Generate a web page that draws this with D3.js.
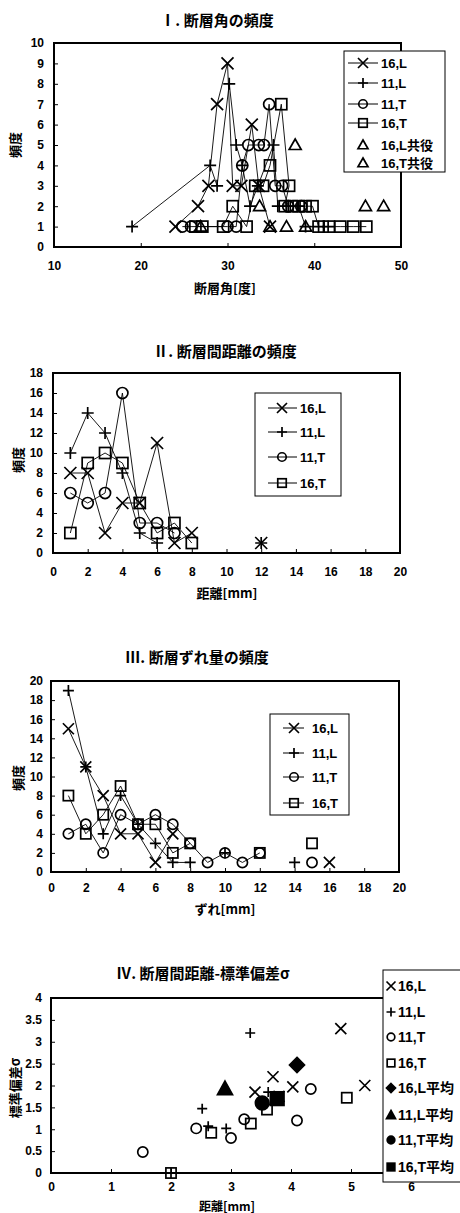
<!DOCTYPE html>
<html><head><meta charset="utf-8">
<script src="https://cdn.jsdelivr.net/npm/d3@7"></script>
<style>
body{margin:0;background:#fff}
text{font-family:"Liberation Sans",Arial,"Noto Sans CJK JP",sans-serif;font-weight:bold;fill:#000}
.jp{font-family:"Noto Sans CJK JP",sans-serif;font-weight:bold}
</style>
</head><body>
<svg id="c" width="460" height="1213"></svg>
<script>
// ---------- Panel I : 断層角の頻度 ----------
const angleTicksX = [10,20,30,40,50];
const angleTicksY = [0,1,2,3,4,5,6,7,8,9,10];
const angle16L = [[24,1],[26.6,2],[27.8,3],[28.8,7],[30,9],[30.6,3],[31.6,3],[32.8,6],[33.6,3],[34.9,1]];
const angle11L = [[19,1],[28,4],[28.8,3],[30.2,8],[31,5],[31.7,4],[32.6,2],[33.5,3],[35.3,5],[35.8,2],[37,2],[38.2,2],[39,1],[40.5,1],[41.6,1]];
const angle11T = [[24.8,1],[25.8,1],[30,1],[31,1],[31.7,4],[32.4,5],[33.6,5],[34.2,5],[34.8,7],[35.5,3],[36.3,3],[37,2],[38.5,2]];
const angle16T = [[26.3,1],[27.1,1],[29.5,1],[30.6,2],[32.2,1],[33.2,3],[34.1,3],[34.9,4],[36.2,7],[37.1,3],[36.6,2],[37.4,2],[38.2,2],[39,2],[39.8,2],[40.5,1],[41.7,1],[43,1],[44.5,1],[46,1]];
const angle16Lc = [[26.9,1],[33.7,2],[37.8,5],[45.9,2]];
const angle16Tc = [[34.9,1],[36.8,1],[39,1],[48,2]];

// ---------- Panel II : 断層間距離の頻度 ----------
const distTicksX = [0,2,4,6,8,10,12,14,16,18,20];
const distTicksY = [0,2,4,6,8,10,12,14,16,18];
const dist16L = [[1,8],[2,8],[3,2],[4,5],[5,5],[6,11],[7,1],[8,2],null,[12,1]];
const dist11L = [[1,10],[2,14],[3,12],[4,8],[5,2],[6,1],null,[12,1]];
const dist11T = [[1,6],[2,5],[3,6],[4,16],[5,3],[6,3],[7,2]];
const dist16T = [[1,2],[2,9],[3,10],[4,9],[5,5],[6,2],[7,3],[8,1]];

// ---------- Panel III : 断層ずれ量の頻度 ----------
const slipTicksX = [0,2,4,6,8,10,12,14,16,18,20];
const slipTicksY = [0,2,4,6,8,10,12,14,16,18,20];
const slip16L = [[1,15],[2,11],[3,8],[4,4],[5,4],[6,1],[7,4],null,[16,1]];
const slip11L = [[1,19],[2,11],[3,4],[4,8],[5,5],[6,3],[7,1],[8,1],null,[10,2],null,[14,1]];
const slip11T = [[1,4],[2,5],[3,2],[4,6],[5,5],[6,6],[7,5],[8,3],[9,1],[10,2],[11,1],[12,2],null,[15,1]];
const slip16T = [[1,8],[2,4],[3,6],[4,9],[5,5],[6,5],[7,2],[8,3],null,[12,2],null,[15,3]];

// ---------- Panel IV : 断層間距離-標準偏差σ ----------
const sdTicksX = [0,1,2,3,4,5,6];
const sdTicksY = [0,0.5,1,1.5,2,2.5,3,3.5,4];
const sd16L = [[3.4,1.85],[3.7,2.2],[3.8,1.75],[4.03,1.97],[4.83,3.3],[5.23,2.0]];
const sd11L = [[2.0,0],[2.52,1.47],[2.62,1.07],[2.92,1.02],[3.32,3.2],[3.62,1.85]];
const sd11T = [[1.53,0.48],[2.42,1.02],[3.0,0.8],[3.22,1.23],[4.1,1.2],[4.33,1.92]];
const sd16T = [[2.0,0],[2.67,0.92],[3.33,1.13],[3.6,1.45],[4.93,1.72]];
const sd16Lavg = [[4.1,2.47]];
const sd11Lavg = [[2.9,1.93]];
const sd11Tavg = [[3.52,1.6]];
const sd16Tavg = [[3.77,1.7]];

const svg = d3.select('#c');

function marker(g, type, cx, cy, s) {
  const h = s/2;
  const st = {stroke:'#000','stroke-width':1.7,fill:'none'};
  let el;
  switch(type){
    case 'x': el = g.append('path').attr('d',`M${cx-h},${cy-h}L${cx+h},${cy+h}M${cx-h},${cy+h}L${cx+h},${cy-h}`); break;
    case 'plus': el = g.append('path').attr('d',`M${cx-h},${cy}L${cx+h},${cy}M${cx},${cy-h}L${cx},${cy+h}`); break;
    case 'circle': el = g.append('circle').attr('cx',cx).attr('cy',cy).attr('r',h*0.85); break;
    case 'square': el = g.append('rect').attr('x',cx-h*0.85).attr('y',cy-h*0.85).attr('width',h*1.7).attr('height',h*1.7); break;
    case 'tri': el = g.append('path').attr('d',`M${cx},${cy-h}L${cx+h},${cy+h*0.75}L${cx-h},${cy+h*0.75}Z`); break;
    case 'diamondF': el = g.append('path').attr('d',`M${cx},${cy-h}L${cx+h},${cy}L${cx},${cy+h}L${cx-h},${cy}Z`); st.fill='#000'; break;
    case 'triF': el = g.append('path').attr('d',`M${cx},${cy-h}L${cx+h},${cy+h*0.8}L${cx-h},${cy+h*0.8}Z`); st.fill='#000'; break;
    case 'circleF': el = g.append('circle').attr('cx',cx).attr('cy',cy).attr('r',h*0.85); st.fill='#000'; break;
    case 'squareF': el = g.append('rect').attr('x',cx-h*0.85).attr('y',cy-h*0.85).attr('width',h*1.7).attr('height',h*1.7); st.fill='#000'; break;
  }
  Object.entries(st).forEach(([k,v])=>el.attr(k,v));
}

function panel(cfg) {
  const g = svg.append('g');
  const x = d3.scaleLinear().domain(cfg.xDomain).range(cfg.xRange);
  const y = d3.scaleLinear().domain(cfg.yDomain).range(cfg.yRange);
  const [x0,x1] = cfg.xRange, [y0,y1] = cfg.yRange;
  const ax = g.append('g').attr('transform',`translate(0,${y0})`)
    .call(d3.axisBottom(x).tickValues(cfg.xTicks).tickSize(-4).tickPadding(cfg.xPad).tickFormat(d3.format('')));
  const ay = g.append('g').attr('transform',`translate(${x0},0)`)
    .call(d3.axisLeft(y).tickValues(cfg.yTicks).tickSize(-4).tickPadding(cfg.yPad).tickFormat(d=>String(d)));
  [ax,ay].forEach(a=>{
    a.select('.domain').remove();
    a.selectAll('.tick line').attr('stroke','#000').attr('stroke-width',1);
    a.selectAll('.tick text').style('font-size','12px').style('font-weight','bold').attr('fill','#000');
  });
  if (cfg.openRight) {
    g.append('path').attr('d',`M${x1},${y1}L${x0},${y1}L${x0},${y0}L${x1},${y0}`)
      .attr('fill','none').attr('stroke','#000').attr('stroke-width',2);
  } else {
    g.append('rect').attr('x',x0).attr('y',y1).attr('width',x1-x0).attr('height',y0-y1)
      .attr('fill','none').attr('stroke','#000').attr('stroke-width',2);
  }
  const line = d3.line().defined(d=>d).x(d=>x(d[0])).y(d=>y(d[1]));
  cfg.series.forEach(s=>{
    if (s.line) g.append('path').attr('d',line(s.data)).attr('fill','none').attr('stroke','#000').attr('stroke-width',0.9);
  });
  cfg.series.forEach(s=>{
    s.data.filter(d=>d).forEach(d=>marker(g,s.marker,x(d[0]),y(d[1]),s.size));
  });
  g.append('text').attr('class','jp').attr('x',cfg.titleX).attr('y',cfg.titleY).attr('text-anchor','middle')
    .attr('dominant-baseline','central').style('font-size','15px').text(cfg.title);
  g.append('text').attr('class','jp').attr('x',cfg.xLabelX).attr('y',cfg.xLabelY).attr('text-anchor','middle')
    .attr('dominant-baseline','central').style('font-size',cfg.xLabelSize||'13px').text(cfg.xLabel);
  g.append('text').attr('class','jp').attr('transform',`translate(${cfg.yLabelX},${cfg.yLabelY}) rotate(-90)`)
    .attr('text-anchor','middle').attr('dominant-baseline','central').style('font-size','13px').text(cfg.yLabel);
  const L = cfg.legend;
  const lg = g.append('g');
  lg.append('rect').attr('x',L.x).attr('y',L.y).attr('width',L.w).attr('height',L.h)
    .attr('fill','#fff').attr('stroke','#000').attr('stroke-width',1);
  L.items.forEach((it,i)=>{
    const yy = L.rows[i];
    const s = cfg.series[i];
    if (s.line) lg.append('line').attr('x1',L.lx0).attr('x2',L.lx1).attr('y1',yy).attr('y2',yy).attr('stroke','#000').attr('stroke-width',1);
    marker(lg, s.marker, L.mx, yy, L.ms);
    lg.append('text').attr('x',L.tx).attr('y',yy).attr('dominant-baseline','central')
      .style('font-size',L.fs||'13px').text(it);
  });
}

panel({
  xDomain:[10,50], xRange:[54,401], yDomain:[0,10], yRange:[247,43],
  xTicks:angleTicksX, yTicks:angleTicksY, xPad:14, yPad:10,
  title:'Ⅰ. 断層角の頻度', titleX:217, titleY:19,
  xLabel:'断層角[度]', xLabelX:225, xLabelY:287,
  yLabel:'頻度', yLabelX:14, yLabelY:145,
  series:[
    {data:angle16L, marker:'x', line:true, size:12},
    {data:angle11L, marker:'plus', line:true, size:12},
    {data:angle11T, marker:'circle', line:true, size:13},
    {data:angle16T, marker:'square', line:true, size:13},
    {data:angle16Lc, marker:'tri', line:false, size:12},
    {data:angle16Tc, marker:'tri', line:false, size:12}
  ],
  legend:{x:344,y:51,w:101,h:121,rows:[63,83,104,123,145,163],lx0:348,lx1:378,mx:363,ms:10,tx:381,
    items:['16,L','11,L','11,T','16,T','16,L共役','16,T共役']}
});

panel({
  xDomain:[0,20], xRange:[53,400], yDomain:[0,18], yRange:[553,373],
  xTicks:distTicksX, yTicks:distTicksY, xPad:14, yPad:10,
  title:'Ⅱ. 断層間距離の頻度', titleX:225, titleY:350,
  xLabel:'距離[mm]', xLabelX:227, xLabelY:592,
  yLabel:'頻度', yLabelX:17, yLabelY:460,
  series:[
    {data:dist16L, marker:'x', line:true, size:12},
    {data:dist11L, marker:'plus', line:true, size:12},
    {data:dist11T, marker:'circle', line:true, size:13},
    {data:dist16T, marker:'square', line:true, size:13}
  ],
  legend:{x:255,y:393,w:86,h:103,rows:[408,432,457,483],lx0:268,lx1:297,mx:282,ms:10,tx:300,
    items:['16,L','11,L','11,T','16,T']}
});

panel({
  xDomain:[0,20], xRange:[51,399], yDomain:[0,20], yRange:[872,681],
  xTicks:slipTicksX, yTicks:slipTicksY, xPad:11, yPad:8,
  title:'Ⅲ. 断層ずれ量の頻度', titleX:197, titleY:656,
  xLabel:'ずれ[mm]', xLabelX:225, xLabelY:908,
  yLabel:'頻度', yLabelX:17, yLabelY:778,
  series:[
    {data:slip16L, marker:'x', line:true, size:11},
    {data:slip11L, marker:'plus', line:true, size:11},
    {data:slip11T, marker:'circle', line:true, size:12},
    {data:slip16T, marker:'square', line:true, size:12}
  ],
  legend:{x:270,y:714,w:79,h:101,rows:[728,753,777,803],lx0:283,lx1:304,mx:294,ms:10,tx:312,
    items:['16,L','11,L','11,T','16,T']}
});

panel({
  xDomain:[0,6], xRange:[51,411], yDomain:[0,4], yRange:[1173,998],
  xTicks:sdTicksX, yTicks:sdTicksY, xPad:9, yPad:9, openRight:true,
  title:'Ⅳ. 断層間距離-標準偏差σ', titleX:203, titleY:972,
  xLabel:'距離[mm]', xLabelX:227, xLabelY:1205, xLabelSize:'12px',
  yLabel:'標準偏差σ', yLabelX:14, yLabelY:1088,
  series:[
    {data:sd16L, marker:'x', line:false, size:11},
    {data:sd11L, marker:'plus', line:false, size:10},
    {data:sd11T, marker:'circle', line:false, size:12},
    {data:sd16T, marker:'square', line:false, size:12},
    {data:sd16Lavg, marker:'diamondF', line:false, size:15},
    {data:sd11Lavg, marker:'triF', line:false, size:15},
    {data:sd11Tavg, marker:'circleF', line:false, size:16},
    {data:sd16Tavg, marker:'squareF', line:false, size:16}
  ],
  legend:{x:383,y:970,w:90,h:212,rows:[986,1012,1037,1063,1088,1115,1140,1167],lx0:0,lx1:0,mx:391,ms:9,tx:398,fs:'14px',
    items:['16,L','11,L','11,T','16,T','16,L平均','11,L平均','11,T平均','16,T平均']}
});
</script>
</body></html>
